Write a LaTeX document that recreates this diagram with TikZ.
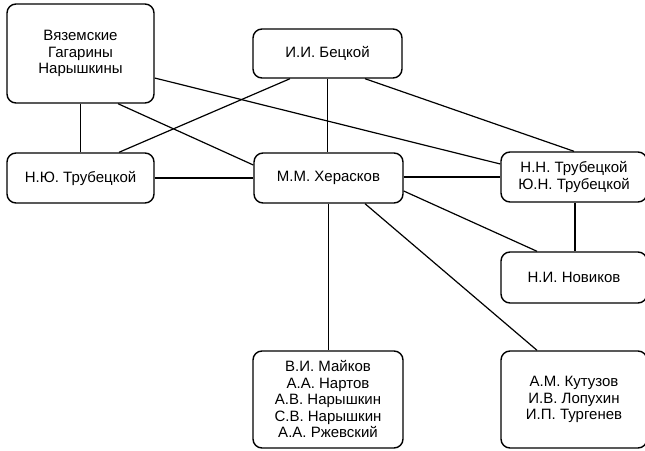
\documentclass[tikz,border=0pt]{standalone}
\usepackage{fontspec}
\setmainfont{Liberation Sans}
\begin{document}
\begin{tikzpicture}[x=1pt,y=-1pt,
  box/.style={draw, line width=1.4pt, rounded corners=9pt, align=center,
    inner sep=0pt, font=\fontsize{15}{16.5}\selectfont},
  link/.style={line width=1.2pt}]
\useasboundingbox (0,0) rectangle (645,450);
% people and families
\node[box, minimum width=147pt, minimum height=99pt] (vyaz) at (80.5,53.5) {Вяземские\\Гагарины\\Нарышкины};
\node[box, minimum width=149pt, minimum height=49pt] (bets) at (327.5,53.5) {И.И. Бецкой};
\node[box, minimum width=147pt, minimum height=50pt] (nyu) at (80.5,178) {Н.Ю. Трубецкой};
\node[box, minimum width=149pt, minimum height=50pt] (kher) at (328.5,178) {М.М. Херасков};
\node[box, minimum width=146pt, minimum height=50pt] (nn) at (574,177) {Н.Н. Трубецкой\\Ю.Н. Трубецкой};
\node[box, minimum width=146pt, minimum height=51pt] (nov) at (574,277.5) {Н.И. Новиков};
\node[box, minimum width=150pt, minimum height=97pt] (maik) at (328,399.5) {В.И. Майков\\А.А. Нартов\\А.В. Нарышкин\\С.В. Нарышкин\\А.А. Ржевский};
\node[box, minimum width=146pt, minimum height=97pt] (kut) at (574,399.5) {А.М. Кутузов\\И.В. Лопухин\\И.П. Тургенев};
% connections
\draw[link] (vyaz.south -| nyu.north) -- (nyu.north);
\draw[link] ([xshift=37.5pt]vyaz.south) -- ([yshift=13pt]kher.west);
\draw[link] ([yshift=-24.5pt]vyaz.east) -- ([yshift=13pt]nn.west);
\draw[link] ([xshift=38.5pt]nyu.north) -- ([xshift=-37.5pt]bets.south);
\draw[link] (nyu.east) -- (kher.west);
\draw[link] (bets.south) -- (bets.south |- kher.north);
\draw[link] ([xshift=37.5pt]bets.south) -- (nn.north);
\draw[link] ([yshift=1pt]kher.east) -- ([yshift=1pt]kher.east -| nn.west);
\draw[link] ([yshift=-13pt]kher.east) -- ([xshift=-37pt]nov.north);
\draw[link] ([xshift=36.5pt]kher.south) -- ([xshift=-37pt]kut.north);
\draw[link] (kher.south) -- (kher.south |- maik.north);
\draw[link] ([xshift=1pt]nn.south) -- ([xshift=1pt]nn.south |- nov.north);
\end{tikzpicture}
\end{document}
